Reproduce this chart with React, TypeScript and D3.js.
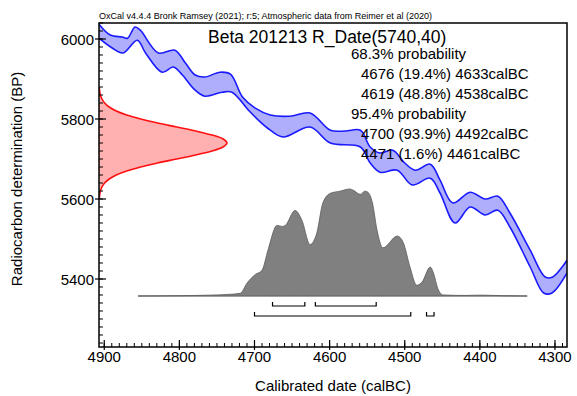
import React from "react";
import * as d3 from "d3";

// Calibration curve band (calBC year, BP) – upper and lower edges
const curveUpperYears = [4907, 4892, 4876, 4869, 4859, 4852, 4828, 4806, 4792, 4779, 4766, 4746, 4732, 4716, 4699, 4679, 4653, 4626, 4599, 4579, 4559, 4546, 4533, 4516, 4500, 4486, 4466, 4453, 4436, 4413, 4393, 4376, 4360, 4333, 4313, 4303, 4284];
const curveUpperBP = [6037, 6010, 6005, 6002, 6030, 6022, 5965, 5972, 5940, 5910, 5905, 5917, 5912, 5855, 5827, 5810, 5807, 5815, 5772, 5770, 5772, 5730, 5715, 5722, 5690, 5672, 5687, 5647, 5590, 5617, 5600, 5607, 5565, 5472, 5405, 5405, 5447];
const curveLowerYears = [4907, 4889, 4875, 4856, 4845, 4823, 4808, 4796, 4779, 4766, 4743, 4730, 4708, 4692, 4679, 4662, 4626, 4599, 4559, 4546, 4533, 4510, 4490, 4466, 4453, 4433, 4413, 4393, 4376, 4360, 4333, 4315, 4304, 4284];
const curveLowerBP = [6002, 5977, 5965, 5997, 5965, 5917, 5930, 5910, 5872, 5857, 5867, 5867, 5822, 5792, 5772, 5755, 5780, 5740, 5730, 5690, 5667, 5672, 5635, 5652, 5615, 5540, 5580, 5560, 5572, 5530, 5430, 5365, 5365, 5415];

// Radiocarbon measurement R_Date(5740,40): BP and relative probability
const measBP = [5600, 5610, 5620, 5630, 5640, 5650, 5660, 5670, 5680, 5690, 5700, 5710, 5720, 5730, 5740, 5750, 5760, 5770, 5780, 5790, 5800, 5810, 5820, 5830, 5840, 5850, 5860, 5870, 5880];
const measProb = [0.002, 0.005, 0.011, 0.023, 0.044, 0.08, 0.135, 0.216, 0.325, 0.458, 0.607, 0.755, 0.883, 0.969, 1, 0.969, 0.883, 0.755, 0.607, 0.458, 0.325, 0.216, 0.135, 0.08, 0.044, 0.023, 0.011, 0.005, 0.002];

// Calibrated distribution: calBC year and relative probability (%)
const calYears = [4855, 4800, 4760, 4735, 4719, 4710, 4699, 4690, 4682, 4670, 4663, 4659, 4646, 4637, 4626, 4617, 4609, 4599, 4586, 4573, 4569, 4559, 4553, 4549, 4543, 4537, 4529, 4510, 4502, 4493, 4484, 4477, 4466, 4462, 4456, 4449, 4420, 4400, 4370, 4337];
const calProb = [0, 0.3, 0.8, 1.5, 2.5, 12, 20, 24, 43, 66, 65, 66, 80, 71, 48, 59, 87, 96, 98, 100, 99, 95, 98, 97, 87, 62, 45, 56, 50, 27, 10, 13, 27, 22, 7, 1, 0.5, 0.8, 0.3, 0];

// Probability ranges
const range68 = [[4676, 4633], [4619, 4538]];
const range95 = [[4700, 4492], [4471, 4461]];

const headerText = "OxCal v4.4.4 Bronk Ramsey (2021); r:5; Atmospheric data from Reimer et al (2020)";
const titleText = "Beta 201213 R_Date(5740,40)";
const rangeLines = [
  { text: "68.3% probability", indent: 0 },
  { text: "4676 (19.4%) 4633calBC", indent: 1 },
  { text: "4619 (48.8%) 4538calBC", indent: 1 },
  { text: "95.4% probability", indent: 0 },
  { text: "4700 (93.9%) 4492calBC", indent: 1 },
  { text: "4471 (1.6%) 4461calBC", indent: 1 },
];
const xTickLabels = [4900, 4800, 4700, 4600, 4500, 4400, 4300];
const yTickLabels = [6000, 5800, 5600, 5400];

const FONT = "'Liberation Sans', Arial, Helvetica, sans-serif";

export default function App() {
  const W = 577, H = 396;
  const L = 99, R = 567, T = 23, B = 347;
  const x = d3.scaleLinear().domain([4907, 4284]).range([L, R]);
  const y = d3.scaleLinear().domain([5230, 6040]).range([B, T]);
  const measX = d3.scaleLinear().domain([0, 1]).range([L, 227]);
  const baseY = 296;
  const calH = d3.scaleLinear().domain([0, 100]).range([baseY, 189]);

  const upper = curveUpperYears.map((yr, i) => [x(yr), y(curveUpperBP[i])] as [number, number]);
  const lower = curveLowerYears.map((yr, i) => [x(yr), y(curveLowerBP[i])] as [number, number]);
  const lineGen = d3.line().curve(d3.curveCatmullRom.alpha(0.5));
  const upPath = lineGen(upper) || "";
  const loPath = lineGen(lower) || "";
  const loRev = lineGen(lower.slice().reverse()) || "";
  const bandFill = upPath + loRev.replace(/^M/, "L") + "Z";

  const measArea = d3
    .area<number>()
    .y((_, i) => y(measBP[i]))
    .x0(L)
    .x1((d) => measX(d))
    .curve(d3.curveCatmullRom);
  const measLine = d3
    .line<number>()
    .y((_, i) => y(measBP[i]))
    .x((d) => measX(d))
    .curve(d3.curveCatmullRom);

  const calArea = d3
    .area<number>()
    .x((_, i) => x(calYears[i]))
    .y0(baseY)
    .y1((d) => calH(d))
    .curve(d3.curveMonotoneX);

  const xMinor = d3.range(4900, 4280, -10);
  const yMinor = d3.range(5240, 6041, 20);

  const bracket = (r: number[], yy: number, k: string) => (
    <path
      key={k}
      d={`M${x(r[0])},${yy - 4}V${yy}H${x(r[1])}V${yy - 4}`}
      fill="none"
      stroke="#000"
      strokeWidth={1.2}
    />
  );

  return (
    <svg width={W} height={H} style={{ position: "absolute", left: 0, top: 0, background: "#fff" }} fontFamily={FONT}>
      <defs>
        <clipPath id="plotClip">
          <rect x={L} y={T} width={R - L} height={B - T} />
        </clipPath>
      </defs>
      <rect x={0} y={0} width={W} height={H} fill="#fff" />

      <g clipPath="url(#plotClip)">
        {/* Calibration curve */}
        <path d={bandFill} fill="#aeaefc" stroke="none" />
        <path d={upPath} fill="none" stroke="#1a1aff" strokeWidth={1.6} />
        <path d={loPath} fill="none" stroke="#1a1aff" strokeWidth={1.6} />

        {/* Measurement distribution */}
        <path d={measArea(measProb) || ""} fill="#ffb0b0" stroke="none" />
        <path d={measLine(measProb) || ""} fill="none" stroke="#ff1010" strokeWidth={1.6} />

        {/* Calibrated distribution */}
        <line x1={x(calYears[0])} x2={x(calYears[calYears.length - 1])} y1={baseY} y2={baseY} stroke="#9a9a9a" strokeWidth={1.2} />
        <path d={calArea(calProb) || ""} fill="#808080" stroke="#5a5a5a" strokeWidth={0.8} />

        {range68.map((r, i) => bracket(r, 306, "a" + i))}
        {range95.map((r, i) => bracket(r, 316, "b" + i))}
      </g>

      {/* Frame */}
      <rect x={L} y={T} width={R - L} height={B - T} fill="none" stroke="#000" strokeWidth={1.5} />

      {/* Y ticks */}
      {yMinor.map((v) => (
        <line key={"ym" + v} x1={L} x2={L + 4} y1={y(v)} y2={y(v)} stroke="#000" strokeWidth={1} />
      ))}
      {yTickLabels.map((v) => (
        <g key={"yt" + v}>
          <line x1={L - 4} x2={L + 7} y1={y(v)} y2={y(v)} stroke="#000" strokeWidth={1.2} />
          <text x={L - 5} y={y(v) + 5.5} fontSize={15} textAnchor="end" fill="#000">
            {v}
          </text>
        </g>
      ))}

      {/* X ticks */}
      {xMinor.map((v) => (
        <line key={"xm" + v} x1={x(v)} x2={x(v)} y1={B} y2={B - 4} stroke="#000" strokeWidth={1} />
      ))}
      {xTickLabels.map((v) => (
        <g key={"xt" + v}>
          <line x1={x(v)} x2={x(v)} y1={B + 3} y2={B - 7} stroke="#000" strokeWidth={1.2} />
          <text x={x(v)} y={362} fontSize={15} textAnchor="middle" fill="#000">
            {v}
          </text>
        </g>
      ))}

      {/* Axis titles */}
      <text x={333} y={391} fontSize={15} textAnchor="middle" fill="#000">
        Calibrated date (calBC)
      </text>
      <text transform={`translate(22,179) rotate(-90)`} fontSize={15} textAnchor="middle" fill="#000">
        Radiocarbon determination (BP)
      </text>

      {/* Header */}
      <text x={L} y={19} fontSize={9} fill="#000" textLength={333} lengthAdjust="spacingAndGlyphs">
        {headerText}
      </text>

      {/* Titles */}
      <text x={208} y={43} fontSize={17.5} fill="#000">
        {titleText}
      </text>
      {rangeLines.map((l, i) => (
        <text key={"rl" + i} x={l.indent ? 361 : 351} y={59 + i * 20} fontSize={15} fill="#000">
          {l.text}
        </text>
      ))}
    </svg>
  );
}
